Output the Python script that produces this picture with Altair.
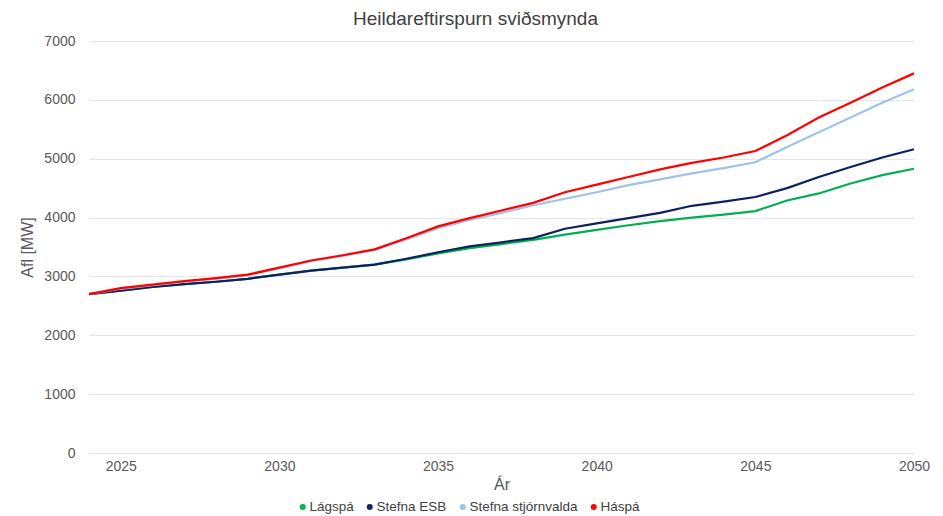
import altair as alt
import pandas as pd

years = list(range(2024, 2051))
series_names = ["Lágspá", "Stefna ESB", "Stefna stjórnvalda", "Háspá"]
colors = ["#00B050", "#0E2060", "#9DC3E6", "#FF0000"]

lagspa = [2700, 2760, 2820, 2870, 2910, 2960, 3030, 3100, 3150, 3200, 3290, 3390,
          3480, 3550, 3620, 3710, 3790, 3870, 3940, 4000, 4050, 4110, 4290, 4410,
          4580, 4720, 4830]
stefna_esb = [2700, 2760, 2820, 2870, 2910, 2960, 3030, 3100, 3150, 3200, 3300, 3410,
              3510, 3580, 3650, 3810, 3900, 3990, 4080, 4200, 4270, 4350, 4500, 4690,
              4860, 5020, 5160]
stefna_stj = [2700, 2790, 2850, 2910, 2960, 3020, 3140, 3260, 3350, 3450, 3630, 3820,
              3960, 4080, 4210, 4320, 4430, 4550, 4650, 4750, 4840, 4940, 5200, 5450,
              5700, 5950, 6180]
haspa = [2700, 2800, 2860, 2920, 2970, 3030, 3150, 3270, 3360, 3460, 3650, 3850,
         3990, 4120, 4250, 4430, 4560, 4690, 4820, 4930, 5020, 5130, 5400, 5700,
         5950, 6210, 6450]

values = [lagspa, stefna_esb, stefna_stj, haspa]
rows = []
for name, vals in zip(series_names, values):
    for y, v in zip(years, vals):
        rows.append({"Ár": y, "Afl": v, "Sviðsmynd": name})
df = pd.DataFrame(rows)

FONT = "Liberation Sans"
TXT = "#595959"

chart = alt.Chart(df).mark_line(strokeWidth=2.2).encode(
    x=alt.X("Ár:Q",
            scale=alt.Scale(domain=[2024, 2050], nice=False, zero=False),
            axis=alt.Axis(title="Ár", values=[2025, 2030, 2035, 2040, 2045, 2050],
                          format="d", grid=False, domain=False, ticks=False,
                          labelFlush=False,
                          labelPadding=6, titlePadding=3, labelFontSize=14,
                          titleFontSize=16, titleFontWeight="normal",
                          labelColor=TXT, titleColor=TXT, labelFont=FONT, titleFont=FONT)),
    y=alt.Y("Afl:Q",
            scale=alt.Scale(domain=[0, 7000], nice=False),
            axis=alt.Axis(title="Afl [MW]", values=list(range(0, 7001, 1000)),
                          format="d",
                          grid=True, gridColor="#E6E6E6", domain=False, ticks=False,
                          labelPadding=14, titlePadding=8, labelFontSize=14,
                          titleFontSize=16, titleFontWeight="normal",
                          labelColor=TXT, titleColor=TXT, labelFont=FONT, titleFont=FONT)),
    color=alt.Color("Sviðsmynd:N",
                    scale=alt.Scale(domain=series_names, range=colors),
                    sort=series_names,
                    legend=alt.Legend(title=None, orient="none", legendX=207, legendY=459,
                                      direction="horizontal", symbolType="circle",
                                      symbolSize=8, symbolStrokeWidth=3.2, padding=0,
                                      labelFontSize=13.5, labelColor="#404040", labelFont=FONT,
                                      labelOffset=0, columnPadding=7, symbolOpacity=1)),
).properties(
    width=825, height=412,
    title=alt.TitleParams("Heildareftirspurn sviðsmynda", fontSize=19, fontWeight="normal",
                          color="#404040", font=FONT, offset=5, anchor="middle", dx=-26),
    autosize=alt.AutoSizeParams(type="none"),
    padding={"left": 81, "top": 33, "right": 18, "bottom": 63},
).configure_view(stroke=None)

chart.save("out.html", embed_options={"renderer": "svg", "actions": False})
